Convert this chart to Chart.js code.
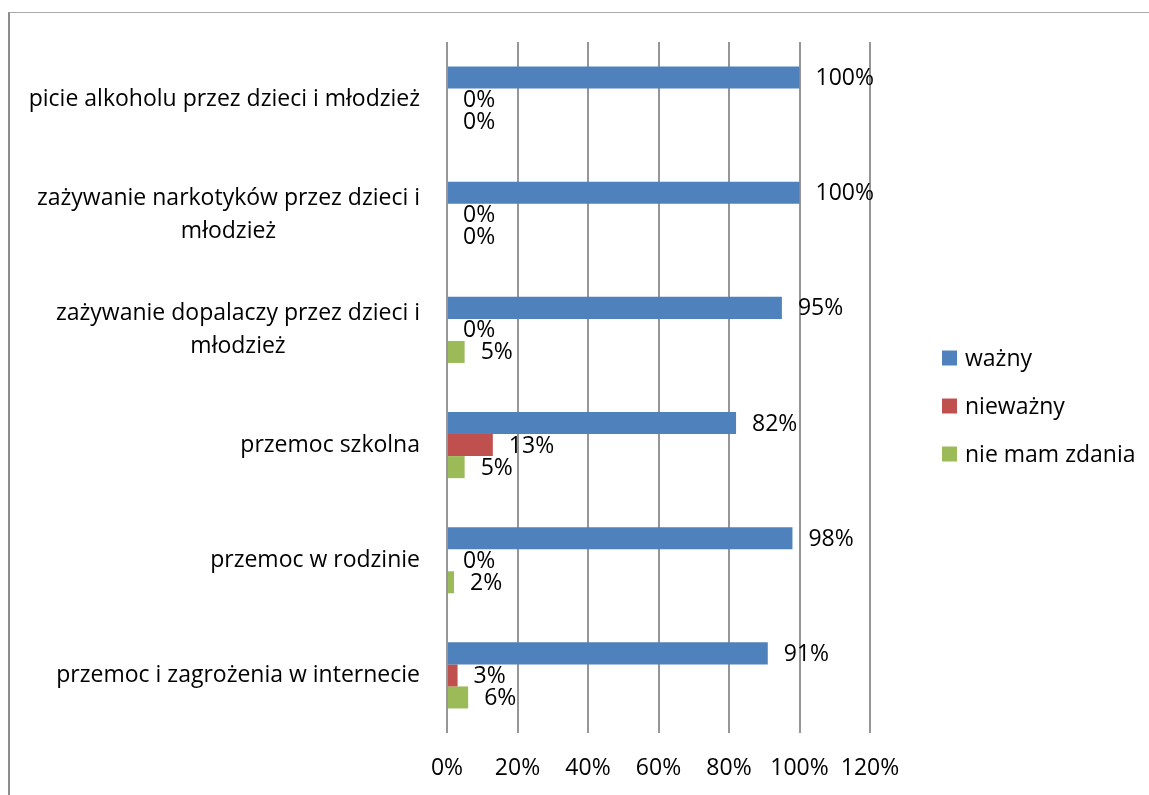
<!doctype html>
<html>

<head>
  <meta charset="utf-8">
  <title>Ważność problemów</title>
  <script src="https://cdn.jsdelivr.net/npm/chart.js@4.4.0/dist/chart.umd.min.js"></script>
  <style>
    body {
      margin: 0;
      background: #fff;
    }
    canvas {
      position: absolute;
      left: 0;
      top: 0;
    }
    .frame {
      position: absolute;
      left: 8px;
      top: 12px;
      width: 1141px;
      height: 783px;
      border-top: 1px solid #a9a9a9;
      border-left: 2px solid #8c8c8c;
      pointer-events: none;
    }
  </style>
</head>

<body>
  <canvas id="myChart" width="1149" height="795"></canvas>
  <div class="frame"></div>

  <script>
    var categories = [
      ['picie alkoholu przez dzieci i młodzież'],
      ['zażywanie narkotyków przez dzieci i', 'młodzież'],
      ['zażywanie dopalaczy przez dzieci i', 'młodzież'],
      ['przemoc szkolna'],
      ['przemoc w rodzinie'],
      ['przemoc i zagrożenia w internecie']
    ];
    var wazny = [100, 100, 95, 82, 98, 91];
    var niewazny = [0, 0, 0, 13, 0, 3];
    var nieMamZdania = [0, 0, 5, 5, 2, 6];
    var xTicks = [0, 20, 40, 60, 80, 100, 120];

    var FONT = '23px "Open Sans"';

    // category labels: block right aligned, lines centred inside the block
    var categoryLabels = {
      id: 'categoryLabels',
      afterDraw: function(chart) {
        var ctx = chart.ctx;
        var y = chart.scales.y;
        var right = chart.chartArea.left - 27;
        ctx.save();
        ctx.font = FONT;
        ctx.fillStyle = '#000';
        ctx.textAlign = 'center';
        ctx.textBaseline = 'middle';
        categories.forEach(function(lines, i) {
          var w = 0;
          lines.forEach(function(l) { w = Math.max(w, ctx.measureText(l).width); });
          var cy = y.getPixelForValue(i);
          lines.forEach(function(l, j) {
            ctx.fillText(l, right - w / 2, cy + (j - (lines.length - 1) / 2) * 33);
          });
        });
        ctx.restore();
      }
    };

    var valueLabels = {
      id: 'valueLabels',
      afterDatasetsDraw: function(chart) {
        var ctx = chart.ctx;
        ctx.save();
        ctx.font = FONT;
        ctx.fillStyle = '#000';
        ctx.textAlign = 'left';
        ctx.textBaseline = 'middle';
        chart.data.datasets.forEach(function(ds, di) {
          chart.getDatasetMeta(di).data.forEach(function(bar, i) {
            ctx.fillText(ds.data[i] + '%', bar.x + 16, bar.y + 1);
          });
        });
        ctx.restore();
      }
    };

    var sideLegend = {
      id: 'sideLegend',
      afterDraw: function(chart) {
        var ctx = chart.ctx;
        ctx.save();
        ctx.font = FONT;
        ctx.textAlign = 'left';
        ctx.textBaseline = 'middle';
        chart.data.datasets.forEach(function(ds, i) {
          var cy = 358 + i * 48;
          ctx.fillStyle = ds.backgroundColor;
          ctx.fillRect(942, cy - 7.5, 15, 15);
          ctx.fillStyle = '#000';
          ctx.fillText(ds.label, 965, cy + 1);
        });
        ctx.restore();
      }
    };

    var config = {
      type: 'bar',
      data: {
        labels: categories,
        datasets: [{
          label: 'ważny',
          backgroundColor: '#4f81bd',
          data: wazny
        }, {
          label: 'nieważny',
          backgroundColor: '#c0504d',
          data: niewazny
        }, {
          label: 'nie mam zdania',
          backgroundColor: '#9bbb59',
          data: nieMamZdania
        }]
      },
      options: {
        indexAxis: 'y',
        responsive: false,
        animation: false,
        layout: {
          padding: { top: 42, right: 279, left: 0, bottom: 0 }
        },
        datasets: {
          bar: {
            categoryPercentage: 0.574,
            barPercentage: 1
          }
        },
        scales: {
          x: {
            min: 0,
            max: 120,
            afterBuildTicks: function(scale) {
              scale.ticks = xTicks.map(function(v) { return { value: v }; });
            },
            afterFit: function(scale) { scale.height = 62; },
            grid: {
              color: '#969696',
              lineWidth: 2,
              drawTicks: false
            },
            border: { display: false },
            ticks: {
              padding: 22,
              color: '#000',
              font: { family: 'Open Sans', size: 23 },
              callback: function(v) { return v + '%'; }
            }
          },
          y: {
            afterFit: function(scale) { scale.width = 447; },
            grid: { display: false },
            border: { display: false },
            ticks: { display: false }
          }
        },
        plugins: {
          legend: { display: false },
          tooltip: { enabled: false }
        }
      },
      plugins: [categoryLabels, valueLabels, sideLegend]
    };

    window.onload = function() {
      var ctx = document.getElementById('myChart').getContext('2d');
      window.myChart = new Chart(ctx, config);
    };
  </script>
</body>

</html>
